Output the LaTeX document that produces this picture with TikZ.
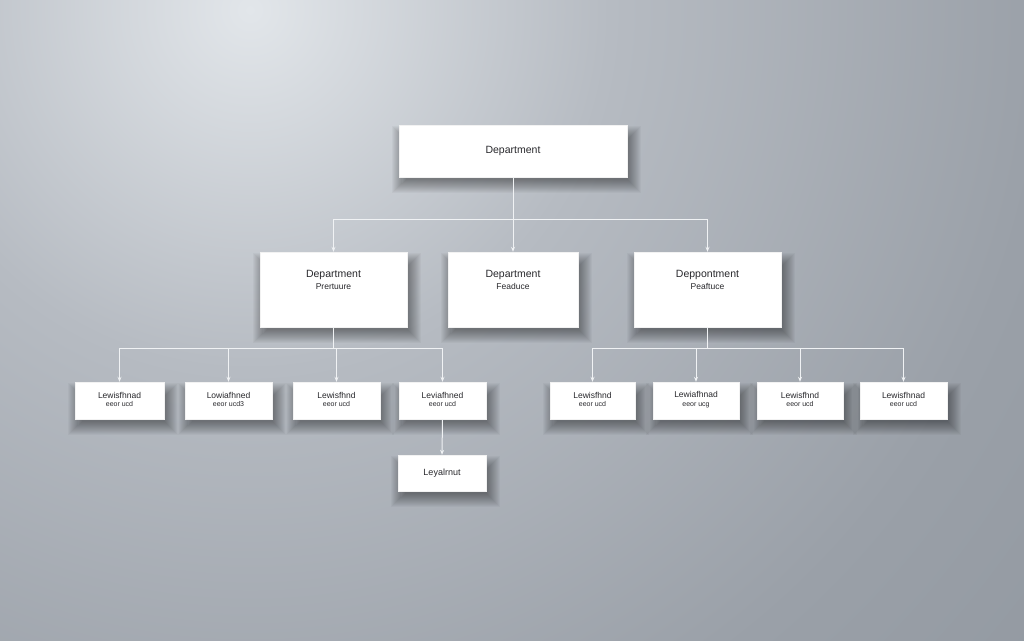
\documentclass[tikz,border=0pt]{standalone}
\usepackage{fontspec}
\setmainfont{Liberation Sans}
\usetikzlibrary{arrows.meta}
\definecolor{bgA}{RGB}{226,230,234}
\definecolor{bgB}{RGB}{182,187,194}
\definecolor{bgC}{RGB}{154,160,168}
\definecolor{bgD}{RGB}{138,145,153}
\definecolor{txt}{RGB}{40,40,44}
\definecolor{wire}{RGB}{240,242,244}
\pgfdeclareradialshading{bgshade}{\pgfpoint{0bp}{0bp}}{color(0bp)=(bgA); color(9bp)=(bgB); color(20bp)=(bgC); color(34bp)=(bgD); color(50bp)=(bgD)}
\pgfdeclarelayer{shadowlayer}
\pgfsetlayers{shadowlayer,main}
\tikzset{
  box/.style={draw=white!90!gray, line width=0.4pt, fill=white, inner sep=0pt},
  topbox/.style={box, minimum width=228pt, minimum height=52pt},
  midbox/.style={box, minimum height=75pt},
  leafbox/.style={box, minimum height=37pt},
  lbl/.style={text=txt, align=center, inner sep=0pt},
  conn/.style={draw=wire, line width=1pt},
  arr/.style={conn, -{Stealth[length=5pt,width=4pt]}},
  shd/.style={fill=black, fill opacity=0.032}
}
\newcommand{\boxshadow}[1]{%
  \begin{pgfonlayer}{shadowlayer}
  \foreach \i in {0,...,13}{
    \fill[shd] ([xshift={7-\i*1.1}, yshift={-(14-\i*1.0)}]#1.north west) rectangle ([xshift={1+\i*1.0}, yshift={-(3+\i*1.0)}]#1.south east);
  }
  \end{pgfonlayer}}
\begin{document}
\begin{tikzpicture}[x=1pt,y=-1pt]
\useasboundingbox (0,0) rectangle (1024,640);
\begin{pgfonlayer}{shadowlayer}
\begin{scope}
\clip (0,0) rectangle (1024,640);
\shade[shading=bgshade] (250,10) circle (1000);
\end{scope}
\end{pgfonlayer}

% top
\node[topbox] (top) at (513,151) {};
\node[lbl, font=\fontsize{10.5}{12}\selectfont] (ttop) at (top.center) {Department};

% middle
\node[midbox, minimum width=147pt] (mL) at (333.5,289.5) {};
\node[midbox, minimum width=130pt] (mM) at (513,289.5) {};
\node[midbox, minimum width=147pt] (mR) at (707.5,289.5) {};
\tikzset{midtxt/.style={lbl, anchor=north, font=\fontsize{10.5}{12.5}\selectfont}}
\node[midtxt] (tmL) at ([yshift=-18pt]mL.north) {Department\\{\fontsize{8.5}{10}\selectfont Prertuure}};
\node[midtxt] (tmM) at ([yshift=-18pt]mM.north) {Department\\{\fontsize{8.5}{10}\selectfont Feaduce}};
\node[midtxt] (tmR) at ([yshift=-18pt]mR.north) {Deppontment\\{\fontsize{8.5}{10}\selectfont Peaftuce}};

% leaves
\tikzset{leaftxt/.style={lbl, font=\fontsize{8.5}{9.5}\selectfont}}
\foreach \n/\x/\w/\a/\b in {l1/119.5/89/Lewisfhnad/eeor ucd, l2/228.5/87/Lowiafhned/eeor ucd3, l3/336.5/87/Lewisfhnd/eeor ucd, l4/442.5/87/Leviafhned/eeor ucd,
  r1/592.5/85/Lewisfhnd/eeor ucd, r2/696/86/Lewiafhnad/eeor ucg, r3/800/86/Lewisfhnd/eeor ucd, r4/903.5/87/Lewisfhnad/eeor ucd}{
  \node[leafbox, minimum width=\w pt] (\n) at (\x,400.5) {};
  \node[leaftxt] (t\n) at ([yshift=1pt]\n.center) {\a\\[-1pt]{\fontsize{7}{8}\selectfont\b}};
  \boxshadow{\n}
}

% bottom
\node[leafbox, minimum width=88pt, minimum height=36pt] (bot) at (442,473) {};
\node[lbl, font=\fontsize{9}{10}\selectfont] (tbot) at (bot.center) {Leyalrnut};

\boxshadow{top}
\boxshadow{mL}
\boxshadow{mM}
\boxshadow{mR}
\boxshadow{bot}

% connectors
\coordinate (b1) at (513,219);
\draw[conn] (top.south) -- (b1);
\draw[arr] (b1) -| (mL.north);
\draw[arr] (b1) -- (mM.north);
\draw[arr] (b1) -| (mR.north);

\coordinate (b2) at (333.5,348);
\draw[conn] (mL.south) -- (b2);
\foreach \n in {l1,l2,l3,l4}{\draw[arr] (b2) -| (\n.north);}

\coordinate (b3) at (707.5,348);
\draw[conn] (mR.south) -- (b3);
\foreach \n in {r1,r2,r3,r4}{\draw[arr] (b3) -| (\n.north);}

\draw[arr] (l4.south) -- (bot.north);
\end{tikzpicture}
\end{document}
